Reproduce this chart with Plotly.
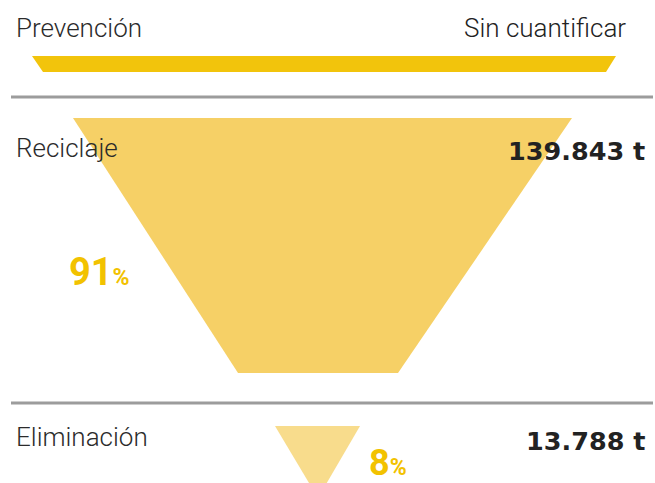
import plotly.graph_objects as go

# ---- data ----
stages = ["Prevención", "Reciclaje", "Eliminación"]
amounts = ["Sin cuantificar", "139.843 t", "13.788 t"]
shares = [None, 91, 8]

# ---- geometry (layout only) ----
W, H = 655, 483
polys = [
    dict(tl=32, tr=616, bl=43, br=606, yt=56, yb=72, color="#F2C40C"),
    dict(tl=73, tr=572, bl=238, br=398, yt=118, yb=373, color="#F6D066"),
    dict(tl=275, tr=360, bl=318, br=318, yt=426, yb=498, color="#F8DC8C"),
]
label_y = [28, 148, 437]
amount_y = [28, 151, 441]
share_pos = [None, (67, 272), (367, 463)]
share_size = [None, 38, 36]
rules_y = [97, 403]

fig = go.Figure()
for p in polys:
    fig.add_trace(go.Scatter(
        x=[p["tl"], p["tr"], p["br"], p["bl"], p["tl"]],
        y=[p["yt"], p["yt"], p["yb"], p["yb"], p["yt"]],
        mode="lines", fill="toself", fillcolor=p["color"],
        line=dict(width=0, color=p["color"]), hoverinfo="skip", showlegend=False,
    ))

annotations = []
for i, s in enumerate(stages):
    annotations.append(dict(
        x=14, y=label_y[i], text=s, showarrow=False, xanchor="left", yanchor="middle",
        font=dict(family="Roboto", size=26, color="#2b2b2b", weight=300),
    ))
    bold = i > 0
    annotations.append(dict(
        x=647 if bold else 628, y=amount_y[i], text=amounts[i], showarrow=False,
        xanchor="right", yanchor="middle",
        font=dict(family="DejaVu Sans" if bold else "Roboto", size=25.5 if bold else 26,
                  color="#222222", weight=700 if bold else 300),
    ))
    if shares[i] is not None:
        x0, y0 = share_pos[i]
        annotations.append(dict(
            x=x0, y=y0, text=f"<b>{shares[i]}</b><span style='font-size:23px'>%</span>",
            showarrow=False, xanchor="left", yanchor="middle",
            font=dict(family="Roboto", size=share_size[i], color="#F2C200", weight=700),
        ))

shapes = [dict(type="line", x0=11, x1=653, y0=yy, y1=yy,
               line=dict(color="#9c9c9c", width=3)) for yy in rules_y]

fig.update_layout(
    width=W, height=H, margin=dict(l=0, r=0, t=0, b=0),
    paper_bgcolor="white", plot_bgcolor="white",
    xaxis=dict(range=[0, W], visible=False, fixedrange=True),
    yaxis=dict(range=[H, 0], visible=False, fixedrange=True),
    annotations=annotations, shapes=shapes, showlegend=False,
)
fig.write_html("out.html", config={"displayModeBar": False},
               post_script="document.body.style.margin='0';document.body.style.overflow='hidden';")
